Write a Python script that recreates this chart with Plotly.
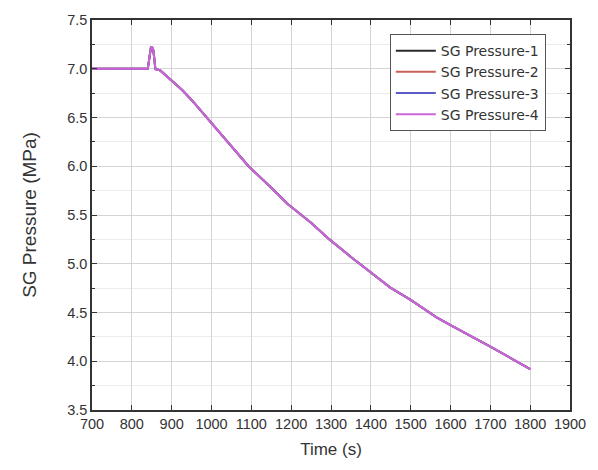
import plotly.graph_objects as go

# Steam generator pressure transient (MPa) vs time (s)
time_s = [700, 800, 840, 843, 846, 848, 851, 854, 857, 859, 862, 867, 872, 880,
          900, 927, 950, 1000, 1050, 1093, 1150, 1192, 1250, 1296, 1350, 1399,
          1449, 1500, 1565, 1600, 1700, 1800]
pressure = [7.0, 7.0, 7.0, 7.08, 7.19, 7.22, 7.22, 7.19, 7.08, 7.0, 6.99, 6.99, 6.98, 6.95,
            6.88, 6.78, 6.68, 6.44, 6.21, 6.0, 5.78, 5.61, 5.42, 5.25, 5.07, 4.91,
            4.755, 4.63, 4.45, 4.37, 4.15, 3.92]

series_names = ["SG Pressure-1", "SG Pressure-2", "SG Pressure-3", "SG Pressure-4"]
series_colors = ["#2b2b2b", "#c9605a", "#5a5ac8", "#cc66d6"]
series_values = [pressure, pressure, pressure, pressure]

fig = go.Figure()
for name, color, vals in zip(series_names, series_colors, series_values):
    fig.add_trace(go.Scatter(x=time_s, y=vals, mode="lines", name=name,
                             line=dict(color=color, width=2)))

FONT = "Liberation Sans, Arial"
WIDE_FONT = "DejaVu Sans"

axis_common = dict(
    showline=True, linecolor="#333333", linewidth=1.5, mirror="ticks",
    ticks="inside", ticklen=5, tickcolor="#333333", tickwidth=1,
    showgrid=True, gridcolor="#d4d4d4", gridwidth=1, zeroline=False,
    tickfont=dict(family=FONT, size=14.5, color="#333333"),
)

fig.update_layout(
    width=598, height=470,
    margin=dict(l=92, r=23, t=18, b=60),
    paper_bgcolor="white", plot_bgcolor="white",
    showlegend=True,
    legend=dict(x=0.623, y=0.964, xanchor="left", yanchor="top",
                bgcolor="white", bordercolor="#555555", borderwidth=1,
                font=dict(family=WIDE_FONT, size=14, color="#333333"),
                tracegroupgap=0, itemwidth=40),
    xaxis=dict(range=[700, 1900], dtick=100, tick0=700,
               title=dict(text="Time (s)", standoff=12,
                          font=dict(family=FONT, size=17, color="#333333")),
               minor=dict(showgrid=False), **axis_common),
    yaxis=dict(range=[3.5, 7.5], dtick=0.5, tick0=3.5, tickformat=".1f",
               title=dict(text="SG Pressure (MPa)", standoff=26,
                          font=dict(family=FONT, size=19, color="#333333")),
               minor=dict(dtick=0.25, ticks="inside", ticklen=3, showgrid=True,
                          gridcolor="#ececec", tickcolor="#333333"),
               **axis_common),
)

fig.write_html("out.html")
